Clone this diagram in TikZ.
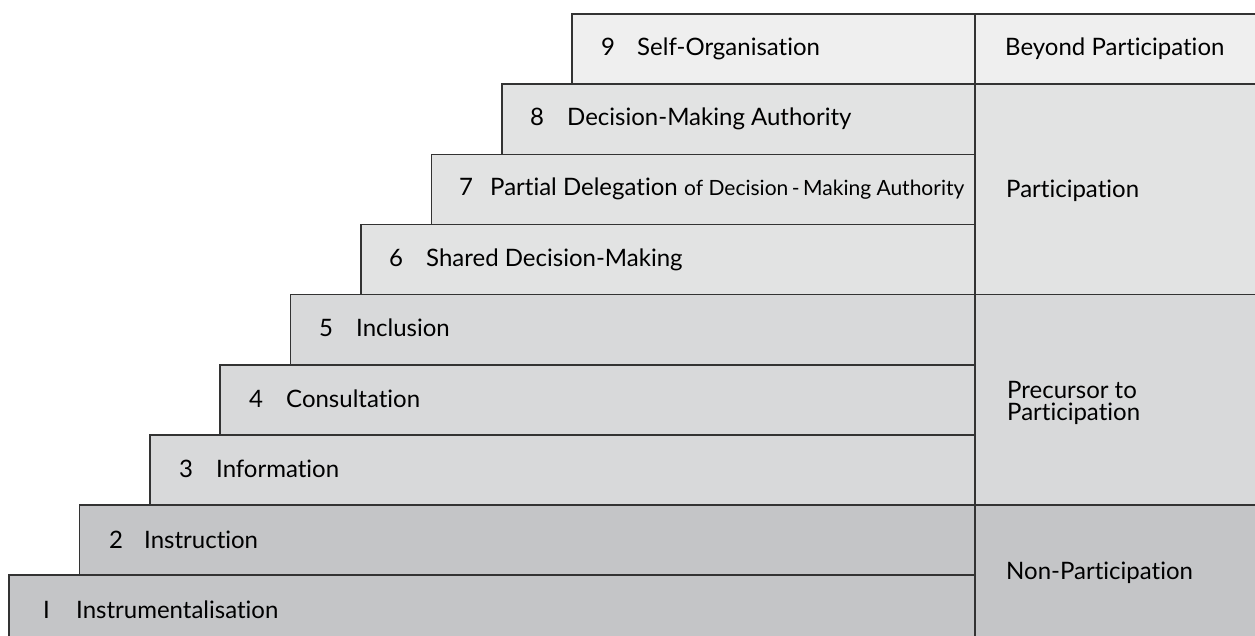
\documentclass[tikz,border=0pt]{standalone}
\usepackage{fontspec}
\setmainfont{Lato}[Ligatures={NoCommon}]
\definecolor{cBeyond}{HTML}{EFEFEF}
\definecolor{cPart}{HTML}{E2E3E3}
\definecolor{cPre}{HTML}{D8D9DA}
\definecolor{cNon}{HTML}{C4C5C7}
\definecolor{linec}{HTML}{333333}
\begin{document}
\begin{tikzpicture}[x=1pt,y=-1pt,
  stepbox/.style={draw=linec, line width=1.5pt},
  lab/.style={anchor=base west, inner sep=0pt, font=\fontsize{24}{28}\selectfont, text=black},
  smalllab/.style={anchor=base west, inner sep=0pt, font=\fontsize{21}{25}\selectfont, text=black},
]
\useasboundingbox (0,0) rectangle (1255,636);
\begin{scope}
\clip (0,0) rectangle (1255,636);
% right column
\filldraw[stepbox, fill=cBeyond] (975,14) rectangle (1270,84.15);
\filldraw[stepbox, fill=cPart] (975,84.15) rectangle (1270,294.6);
\filldraw[stepbox, fill=cPre] (975,294.6) rectangle (1270,505.05);
\filldraw[stepbox, fill=cNon] (975,505.05) rectangle (1270,660);
% steps
\foreach \i/\col in {9/cBeyond,8/cPart,7/cPart,6/cPart,5/cPre,4/cPre,3/cPre,2/cNon,1/cNon}{
  \pgfmathsetmacro{\top}{14+(9-\i)*70.15}
  \pgfmathsetmacro{\lft}{9+(\i-1)*70.4}
  \filldraw[stepbox, fill=\col] (\lft,\top) rectangle (975,\top+70.15);
}
\end{scope}
% step labels
\node[lab] (n9) at (601,56) {9};
\node[lab] (t9) at (637,56) {Self-Organisation};
\node[lab] (n8) at (530,126) {8};
\node[lab] (t8) at (567,126) {Decision-Making Authority};
\node[lab] (n7) at (459,196) {7};
\node[lab] (t7) at (490,196) {Partial Delegation};
\node[smalllab] (s7) at (684,196) {of Decision\,-\,Making Authority};
\node[lab] (n6) at (389,266) {6};
\node[lab] (t6) at (426,266) {Shared Decision-Making};
\node[lab] (n5) at (319,336) {5};
\node[lab] (t5) at (356,336) {Inclusion};
\node[lab] (n4) at (249,407) {4};
\node[lab] (t4) at (286,407) {Consultation};
\node[lab] (n3) at (179,477) {3};
\node[lab] (t3) at (216,477) {Information};
\node[lab] (n2) at (109,548) {2};
\node[lab] (t2) at (144,548) {Instruction};
\node[lab] (n1) at (43,618) {I};
\node[lab] (t1) at (76,618) {Instrumentalisation};
% column labels
\node[lab] (cb) at (1005,56) {Beyond Participation};
\node[lab] (cp) at (1006,198) {Participation};
\node[lab] (cpr1) at (1007,398) {Precursor to};
\node[lab] (cpr2) at (1007,420) {Participation};
\node[lab] (cn) at (1006,579) {Non-Participation};
\end{tikzpicture}
\end{document}
